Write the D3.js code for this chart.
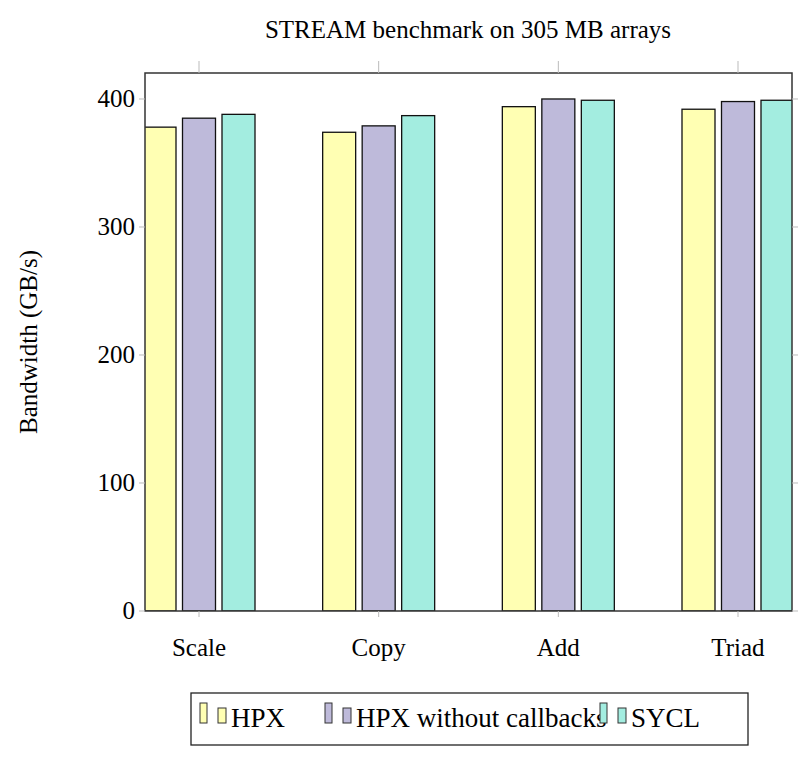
<!DOCTYPE html><html><head><script src="https://d3js.org/d3.v7.min.js"></script>
<style>body{margin:0;background:#fff}text{font-family:"Liberation Serif",serif;fill:#000}</style></head><body><svg width="810" height="761"></svg><script>
const categories=["Scale","Copy","Add","Triad"];
const seriesNames=["HPX","HPX without callbacks","SYCL"];
const hpx=[378,374,394,392];
const hpxNoCb=[385,379,400,398];
const sycl=[388,387,399,399];
const colors=["#ffffb3","#bebada","#a3ede0"];
const yTicks=[0,100,200,300,400];
const series=[hpx,hpxNoCb,sycl];
const svg=d3.select("svg");
const L=145,R=792,T=73,B=611;
const x=d3.scalePoint().domain(categories).range([199,738]);
const y=d3.scaleLinear().domain([0,420.3]).range([B,T]);
svg.append("defs").append("clipPath").attr("id","c").append("rect").attr("x",L).attr("y",T).attr("width",R-L).attr("height",B-T);
const g=svg.append("g").attr("clip-path","url(#c)");
const bw=33,step=39.5;
series.forEach((s,i)=>{
 g.selectAll(null).data(s).enter().append("rect")
  .attr("x",(d,j)=>x(categories[j])+(i-1)*step-bw/2).attr("width",bw)
  .attr("y",d=>y(d)).attr("height",d=>B-y(d))
  .attr("fill",colors[i]).attr("stroke","#111").attr("stroke-width",1.3);
});
svg.append("rect").attr("x",L).attr("y",T).attr("width",R-L).attr("height",B-T).attr("fill","none").attr("stroke","#333").attr("stroke-width",1.5);
categories.forEach(c=>{
 svg.append("line").attr("x1",x(c)).attr("x2",x(c)).attr("y1",T).attr("y2",T-12).attr("stroke","#bbb");
 svg.append("line").attr("x1",x(c)).attr("x2",x(c)).attr("y1",B).attr("y2",B+6).attr("stroke","#bbb");
 svg.append("text").attr("x",x(c)).attr("y",B+45).attr("text-anchor","middle").attr("font-size",25).text(c);
});
yTicks.forEach(t=>{
 svg.append("line").attr("x1",L-6).attr("x2",L).attr("y1",y(t)).attr("y2",y(t)).attr("stroke","#bbb");
 svg.append("line").attr("x1",R).attr("x2",R+6).attr("y1",y(t)).attr("y2",y(t)).attr("stroke","#bbb");
 svg.append("text").attr("x",L-10).attr("y",y(t)+8).attr("text-anchor","end").attr("font-size",25).text(t);
});
svg.append("text").attr("x",468).attr("y",38).attr("text-anchor","middle").attr("font-size",25).text("STREAM benchmark on 305 MB arrays");
svg.append("text").attr("transform","translate(37,342) rotate(-90)").attr("text-anchor","middle").attr("font-size",25).text("Bandwidth (GB/s)");
// legend
svg.append("rect").attr("x",191).attr("y",693).attr("width",557).attr("height",52).attr("fill","#fff").attr("stroke","#222").attr("stroke-width",1.3);
const lx=[200,325,600];
seriesNames.forEach((n,i)=>{
 const x0=lx[i];
 svg.append("rect").attr("x",x0).attr("y",703).attr("width",7).attr("height",20).attr("fill",colors[i]).attr("stroke","#333");
 svg.append("rect").attr("x",x0+18).attr("y",708).attr("width",8).attr("height",15).attr("fill",colors[i]).attr("stroke","#333");
 svg.append("text").attr("x",x0+31).attr("y",727).attr("font-size",27).text(n);
});
</script></body></html>
